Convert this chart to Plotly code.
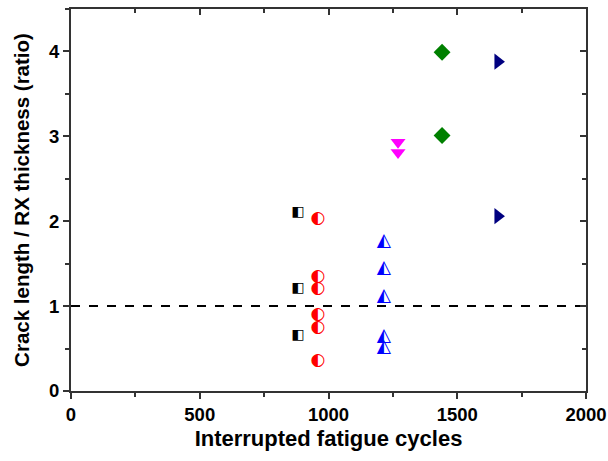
import plotly.graph_objects as go

# Data
sq_x = [882, 882, 882]
sq_y = [2.10, 1.21, 0.65]
circ_x = [959, 959, 959, 959, 959, 959]
circ_y = [2.03, 1.35, 1.20, 0.90, 0.75, 0.36]
tri_x = [1215, 1215, 1215, 1215, 1215]
tri_y = [1.76, 1.44, 1.12, 0.64, 0.51]
down_x = [1270, 1270]
down_y = [2.93, 2.81]
dia_x = [1441, 1441]
dia_y = [3.99, 3.01]
right_x = [1658, 1658]
right_y = [3.88, 2.06]
ref_x = [0, 2000]
ref_y = [1, 1]

FONT = "Liberation Sans"
fig = go.Figure()

fig.add_trace(go.Scatter(x=ref_x, y=ref_y, mode="lines",
                         line=dict(color="black", width=2, dash="dash"),
                         showlegend=False, hoverinfo="skip"))

def glyph(x, y, ch, color, size):
    fig.add_trace(go.Scatter(x=x, y=y, mode="text", text=[ch] * len(x),
                             textposition="middle center",
                             textfont=dict(family="DejaVu Sans", size=size, color=color),
                             showlegend=False))

glyph(sq_x, sq_y, "\u25E7", "black", 14)
glyph(circ_x, circ_y, "\u25D0", "red", 17)
glyph(tri_x, tri_y, "\u25ED", "blue", 18.5)

fig.add_trace(go.Scatter(x=down_x, y=down_y, mode="markers",
                         marker=dict(symbol="triangle-down", size=13, color="magenta"),
                         showlegend=False))
fig.add_trace(go.Scatter(x=dia_x, y=dia_y, mode="markers",
                         marker=dict(symbol="diamond", size=13, color="green"),
                         showlegend=False))
fig.add_trace(go.Scatter(x=right_x, y=right_y, mode="markers",
                         marker=dict(symbol="triangle-right", size=14, color="navy"),
                         showlegend=False))
# invisible trace to anchor mirror axes
fig.add_trace(go.Scatter(x=ref_x, y=ref_y, xaxis="x2", yaxis="y2", mode="lines",
                         line=dict(width=0), opacity=0, showlegend=False, hoverinfo="skip"))

axcol = "#333333"
common = dict(showline=True, linecolor=axcol, linewidth=2, showgrid=False, zeroline=False,
              tickcolor=axcol, tickwidth=1.5, automargin=False)
fig.update_layout(
    width=608, height=461,
    margin=dict(l=71, r=22, t=9, b=70),
    plot_bgcolor="white", paper_bgcolor="white",
    font=dict(family=FONT, color="black"),
    xaxis=dict(range=[0, 2000], tickmode="linear", tick0=0, dtick=500, ticks="outside", ticklen=6,
               minor=dict(dtick=250, ticks="outside", ticklen=4, tickcolor=axcol, tickwidth=1.5),
               tickfont=dict(size=18.5, family=FONT, weight="bold"),
               title=dict(text="<b>Interrupted fatigue cycles</b>", font=dict(size=22, family=FONT), standoff=6),
               **common),
    yaxis=dict(range=[0, 4.5], tickmode="linear", tick0=0, dtick=1, ticks="outside", ticklen=6,
               minor=dict(dtick=0.5, ticks="outside", ticklen=4, tickcolor=axcol, tickwidth=1.5),
               tickfont=dict(size=18.5, family=FONT, weight="bold"),
               title=dict(text="<b>Crack length / RX thickness (ratio)</b>", font=dict(size=20.5, family=FONT), standoff=14),
               **common),
    xaxis2=dict(overlaying="x", side="top", range=[0, 2000], tickmode="linear", tick0=0, dtick=500,
                ticks="inside", ticklen=6, showticklabels=False,
                minor=dict(dtick=250, ticks="inside", ticklen=4, tickcolor=axcol, tickwidth=1.5),
                **common),
    yaxis2=dict(overlaying="y", side="right", range=[0, 4.5], tickmode="linear", tick0=0, dtick=1,
                ticks="inside", ticklen=6, showticklabels=False,
                minor=dict(dtick=0.5, ticks="inside", ticklen=4, tickcolor=axcol, tickwidth=1.5),
                **common),
)

fig.write_html("out.html", config={"displayModeBar": False},
               post_script="document.body.style.margin='0';")
